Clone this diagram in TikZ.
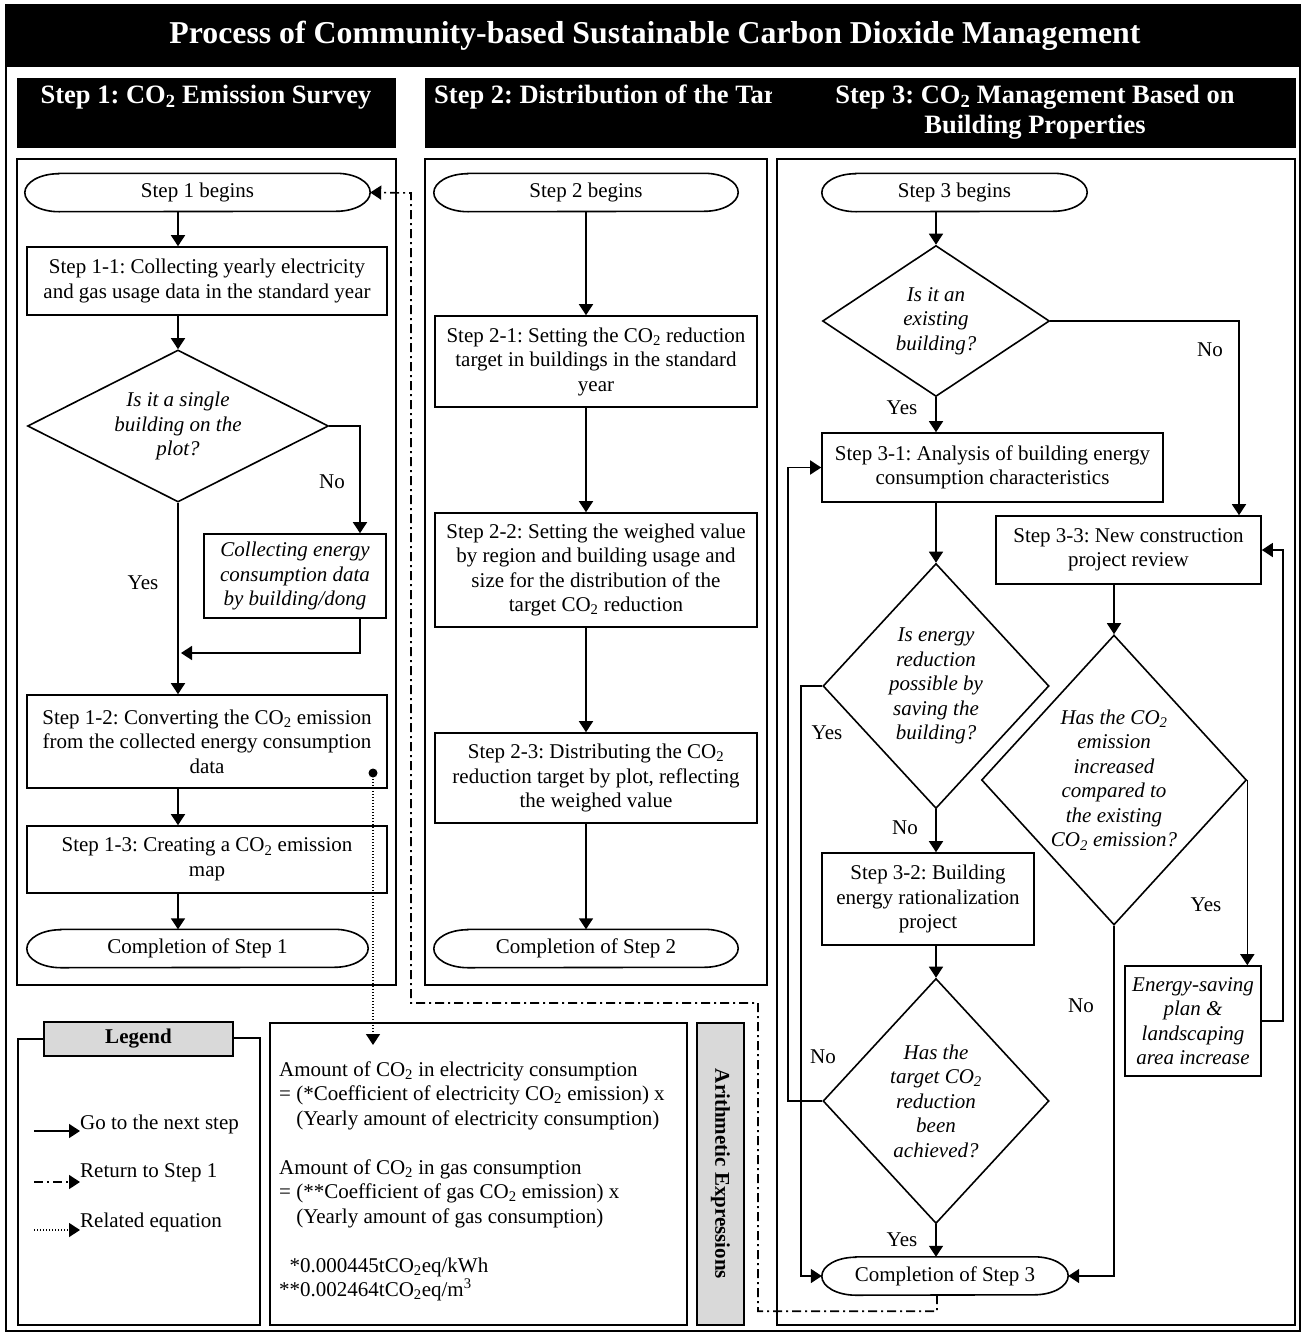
\documentclass[tikz,border=0pt]{standalone}
\usepackage{fontspec}
\setmainfont{Liberation Serif}
\usetikzlibrary{shapes.geometric,arrows.meta}

\newcommand{\bodyfont}{\fontsize{21}{24.5}\selectfont}
\newcommand{\headfont}{\fontsize{26.5}{30}\selectfont\bfseries}
\newcommand{\titlefont}{\fontsize{31.8}{36}\selectfont\bfseries}
\frenchspacing

\definecolor{cor_gray}{gray}{0.85}

\begin{document}
\begin{tikzpicture}[x=1pt,y=-1pt]
        \tikzset{
            stepbox/.style={
                draw,
                line width=1.6pt,
                align=center,
                inner sep=0pt,
                font=\bodyfont
            },
            term/.style={
                minimum height=38pt,
                inner sep=0pt,
                font=\bodyfont
            },
            dia/.style={
                diamond,
                draw,
                line width=1.6pt,
                inner sep=0pt
            },
            qtxt/.style={
                align=center,
                inner sep=0pt,
                font=\bodyfont\itshape
            },
            lbl/.style={
                inner sep=0pt,
                font=\bodyfont
            },
            hdr/.style={
                text=white,
                align=center,
                inner sep=0pt,
                font=\headfont
            },
            arr/.style={
                line width=1.6pt,
                -{Triangle[length=11pt,width=14pt]}
            },
            ret/.style={
                line width=1.6pt,
                dash pattern=on 9pt off 4pt on 2pt off 4pt,
                -{Triangle[length=11pt,width=14pt]}
            },
            reldot/.style={
                line width=1.3pt,
                dash pattern=on 1.3pt off 1.7pt,
                -{Triangle[length=11pt,width=14pt]}
            },
            pnl/.style={
                line width=1.6pt
            }
        }
        \useasboundingbox (0,0) rectangle (1303,1335);

        %frame and title
        \fill[white] (0,0) rectangle (1303,1335);
        \draw[pnl] (6,5) rectangle (1300,1331);
        \fill[black] (6,5) rectangle (1300,67);
        \node[font=\titlefont, text=white, inner sep=0pt] (ttl) at (655,36) {Process of Community-based Sustainable Carbon Dioxide Management};

        %headers
        \fill[black] (17,78) rectangle (396,148);
        \fill[black] (425,78) rectangle (1296,148);
        \node[hdr] (h1) at (206,97) {Step 1: CO\textsubscript{2} Emission Survey};
        \begin{scope}
            \clip (425,78) rectangle (771,148);
            \node[hdr, anchor=west] (h2) at (434,97) {Step 2: Distribution of the Tar};
        \end{scope}
        \node[hdr] (h3) at (1035,112) {Step 3: CO\textsubscript{2} Management Based on\\Building Properties};

        %panels
        \draw[pnl] (17,159) rectangle (396,985);
        \draw[pnl] (425,159) rectangle (767,985);
        \draw[pnl] (777,159) rectangle (1295,1325);
        \draw[pnl] (270,1023) rectangle (687,1325);

        %step 1
        \node[term, minimum width=345pt] (s1b) at (197.5,192.5) {Step 1 begins};
        \node[stepbox, minimum width=360pt, minimum height=68pt] (b11) at (207,281) {Step 1-1: Collecting yearly electricity\\and gas usage data in the standard year};
        \node[dia, minimum width=301pt, minimum height=152pt] (q1) at (178,426) {};
        \node[qtxt] (q1t) at (q1) {Is it a single\\building on the\\plot?};
        \node[stepbox, minimum width=182pt, minimum height=84pt, font=\bodyfont\itshape] (col) at (295,576) {Collecting energy\\consumption data\\by building/dong};
        \node[stepbox, minimum width=360pt, minimum height=93pt] (b12) at (207,741.5) {Step 1-2: Converting the CO\textsubscript{2} emission\\from the collected energy consumption\\data};
        \node[stepbox, minimum width=360pt, minimum height=67pt] (b13) at (207,859.5) {Step 1-3: Creating a CO\textsubscript{2} emission\\map};
        \node[term, minimum width=341pt] (s1e) at (197.5,948.5) {Completion of Step 1};
        \coordinate (m1) at (181,653);
        \coordinate (dt) at (373,773);
        \coordinate (eqin) at (373,1045);

        \draw[arr] (s1b.south -| q1.north) -- (b11.north -| q1.north);
        \draw[arr] (b11.south -| q1.north) -- (q1.north);
        \draw[arr] (q1.south) -- (b12.north -| q1.south);
        \draw[arr] (q1.east) -| ([xshift=65pt]col.north);
        \draw[arr] ([xshift=65pt]col.south) |- (m1);
        \draw[arr] (b12.south -| q1.south) -- (b13.north -| q1.south);
        \draw[arr] (b13.south -| q1.south) -- (s1e.north -| q1.south);
        \node[lbl] (n1) at (332,482) {No};
        \node[lbl] (y1) at (143,583) {Yes};
        \fill (dt) circle (4.5pt);
        \draw[reldot] (dt) -- (eqin);

        %step 2
        \node[term, minimum width=304pt] (s2b) at (586,192.5) {Step 2 begins};
        \node[stepbox, minimum width=322pt, minimum height=91pt] (b21) at (596,361.5) {Step 2-1: Setting the CO\textsubscript{2} reduction\\target in buildings in the standard\\year};
        \node[stepbox, minimum width=322pt, minimum height=114pt] (b22) at (596,570) {Step 2-2: Setting the weighed value\\by region and building usage and\\size for the distribution of the\\target CO\textsubscript{2} reduction};
        \node[stepbox, minimum width=322pt, minimum height=90pt] (b23) at (596,778) {Step 2-3: Distributing the CO\textsubscript{2}\\reduction target by plot, reflecting\\the weighed value};
        \node[term, minimum width=304pt] (s2e) at (586,948.5) {Completion of Step 2};

        \draw[arr] (s2b.south) -- (b21.north -| s2b.south);
        \draw[arr] (b21.south -| s2b.south) -- (b22.north -| s2b.south);
        \draw[arr] (b22.south -| s2b.south) -- (b23.north -| s2b.south);
        \draw[arr] (b23.south -| s2b.south) -- (s2e.north -| s2b.south);

        %step 3
        \node[term, minimum width=265pt] (s3b) at (954.5,192.5) {Step 3 begins};
        \node[dia, minimum width=227pt, minimum height=151pt] (q31) at (936,321) {};
        \node[qtxt] (q31t) at (q31) {Is it an\\existing\\building?};
        \node[stepbox, minimum width=341pt, minimum height=69pt] (b31) at (992.5,467.5) {Step 3-1: Analysis of building energy\\consumption characteristics};
        \node[dia, minimum width=226pt, minimum height=245pt] (q32) at (936,686) {};
        \node[qtxt] (q32t) at (q32) {Is energy\\reduction\\possible by\\saving the\\building?};
        \node[stepbox, minimum width=212pt, minimum height=92pt] (b32) at (928,899) {Step 3-2: Building\\energy rationalization\\project};
        \node[dia, minimum width=226pt, minimum height=245pt] (q33) at (936,1101) {};
        \node[qtxt] (q33t) at (q33) {Has the\\target CO\textsubscript{2}\\reduction\\been\\achieved?};
        \node[term, minimum width=246pt] (s3e) at (945,1276) {Completion of Step 3};
        \node[stepbox, minimum width=265pt, minimum height=68pt] (b33) at (1128.5,550) {Step 3-3: New construction\\project review};
        \node[dia, minimum width=265pt, minimum height=290pt] (q34) at (1114,780) {};
        \node[qtxt] (q34t) at (q34) {Has the CO\textsubscript{2}\\emission\\increased\\compared to\\the existing\\CO\textsubscript{2} emission?};
        \node[stepbox, minimum width=136pt, minimum height=110pt, font=\bodyfont\itshape] (esv) at (1193,1021) {Energy-saving\\plan \&\\landscaping\\area increase};

        \draw[arr] (s3b.south -| q31.north) -- (q31.north);
        \draw[arr] (q31.south) -- (b31.north -| q31.south);
        \draw[arr] (q31.east) -| ([xshift=110.5pt]b33.north);
        \draw[arr] (b31.south -| q32.north) -- (q32.north);
        \draw[arr] (q32.south) -- (b32.north -| q32.south);
        \draw[arr] (b32.south -| q33.north) -- (q33.north);
        \draw[arr] (q33.south) -- (s3e.north -| q33.south);
        \draw[arr] (q32.west) -- ++(-21,0) |- (s3e.west);
        \draw[arr] (q33.west) -- ++(-34,0) |- (b31.west);
        \draw[arr] (b33.south -| q34.north) -- (q34.north);
        \draw[arr] (q34.east) -- (q34.east |- esv.north);
        \draw[arr] (q34.south) |- (s3e.east);
        \draw[arr] (esv.east) -- ++(21,0) |- (b33.east);

        \node[lbl] (y31) at (902,408) {Yes};
        \node[lbl] (n31) at (1210,350) {No};
        \node[lbl] (y32) at (827,733) {Yes};
        \node[lbl] (n32) at (905,828) {No};
        \node[lbl] (n33) at (823,1057) {No};
        \node[lbl] (y33) at (902,1240) {Yes};
        \node[lbl] (y34) at (1206,905) {Yes};
        \node[lbl] (n34) at (1081,1006) {No};

        %terminal outlines and return line
        \foreach \t in {s1b,s1e,s2b,s2e,s3b,s3e}
            \draw[pnl] ([xshift=34pt]\t.north west) -- ([xshift=-34pt]\t.north east)
                arc[start angle=90, end angle=-90, x radius=34pt, y radius=19pt]
                -- ([xshift=34pt]\t.south west)
                arc[start angle=270, end angle=90, x radius=34pt, y radius=19pt] -- cycle;
        \draw[ret] ([xshift=-8pt]s3e.south) -- ++(0,16) -| (758,1003) -| (411,193) -- (s1b.east);

        %legend
        \draw[pnl] (44,1039) -| (18,1325) -| (260,1038) -- (233,1038);
        \node[draw, fill=cor_gray, line width=1.6pt, minimum width=189pt, minimum height=34pt, font=\bodyfont\bfseries] (leg) at (138.5,1039) {Legend};
        \node[lbl, anchor=west] (lg1) at (80,1124) {Go to the next step};
        \node[lbl, anchor=west] (lg2) at (80,1173) {Return to Step 1};
        \node[lbl, anchor=west] (lg3) at (80,1222) {Related equation};
        \draw[arr] ([xshift=-46pt,yshift=-7pt]lg1.west) -- ([yshift=-7pt]lg1.west);
        \draw[ret] ([xshift=-46pt,yshift=-9pt]lg2.west) -- ([yshift=-9pt]lg2.west);
        \draw[reldot] ([xshift=-46pt,yshift=-8pt]lg3.west) -- ([yshift=-8pt]lg3.west);

        %equations
        \node[lbl, align=left, anchor=north west] (eqt) at (279,1061) {Amount of CO\textsubscript{2} in electricity consumption\\
            = (*Coefficient of electricity CO\textsubscript{2} emission) x\\
            \phantom{= }(Yearly amount of electricity consumption)\\[24.5pt]
            Amount of CO\textsubscript{2} in gas consumption\\
            = (**Coefficient of gas CO\textsubscript{2} emission) x\\
            \phantom{= }(Yearly amount of gas consumption)\\[24.5pt]
            \phantom{*}*0.000445tCO\textsubscript{2}eq/kWh\\
            **0.002464tCO\textsubscript{2}eq/m\textsuperscript{3}};
        \node[draw, fill=cor_gray, line width=1.6pt, rotate=-90, minimum width=302pt, minimum height=47pt, font=\bodyfont\bfseries] (arith) at (720.5,1174) {Arithmetic Expressions};

    \end{tikzpicture}
\end{document}
